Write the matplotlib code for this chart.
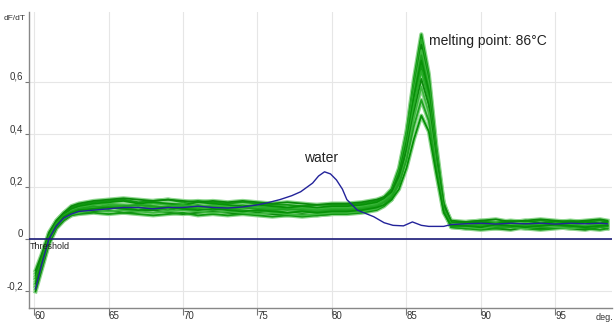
import matplotlib
matplotlib.use("Agg")
from matplotlib import pyplot as plt

plt.rcParams['font.family'] = ['Liberation Sans', 'DejaVu Sans']

# temperature grid shared by the sample wells (deg C)
temps = [60.1, 60.5, 61, 61.5, 62, 62.5,
         63, 64, 65, 66, 67, 68, 69, 70, 71, 72, 73, 74, 75, 76, 77, 78, 79, 80, 81, 82, 83,
         83.5, 84, 84.5, 85, 85.5, 86, 86.5, 87, 87.5, 88,
         89, 90, 91, 92, 93, 94, 95, 96, 97, 98, 98.5]

# dF/dT of the sample wells
well_a = [-0.13, -0.07, 0.02, 0.07, 0.10, 0.12,
          0.13, 0.14, 0.145, 0.15, 0.14, 0.145, 0.15, 0.14, 0.145, 0.14, 0.135, 0.14, 0.135, 0.13, 0.13, 0.125, 0.13, 0.13, 0.13, 0.135, 0.145,
          0.16, 0.19, 0.27, 0.41, 0.61, 0.78, 0.63, 0.36, 0.14, 0.06,
          0.065, 0.07, 0.065, 0.07, 0.065, 0.07, 0.065, 0.07, 0.065, 0.07, 0.065]
well_b = [-0.17, -0.10, 0.0, 0.05, 0.08, 0.10,
          0.11, 0.12, 0.125, 0.12, 0.13, 0.125, 0.12, 0.125, 0.13, 0.12, 0.125, 0.12, 0.115, 0.12, 0.115, 0.11, 0.115, 0.11, 0.115, 0.12, 0.13,
          0.15, 0.18, 0.26, 0.40, 0.59, 0.76, 0.61, 0.34, 0.13, 0.055,
          0.05, 0.055, 0.05, 0.06, 0.05, 0.055, 0.05, 0.055, 0.06, 0.05, 0.055]
well_c = [-0.20, -0.12, -0.02, 0.04, 0.07, 0.09,
          0.10, 0.105, 0.11, 0.10, 0.105, 0.11, 0.10, 0.095, 0.10, 0.105, 0.10, 0.095, 0.10, 0.095, 0.09, 0.095, 0.09, 0.095, 0.10, 0.105, 0.115,
          0.13, 0.16, 0.24, 0.38, 0.57, 0.74, 0.60, 0.33, 0.12, 0.045,
          0.04, 0.045, 0.04, 0.035, 0.045, 0.04, 0.045, 0.04, 0.035, 0.045, 0.04]
well_d = [-0.15, -0.08, 0.01, 0.06, 0.09, 0.11,
          0.12, 0.13, 0.135, 0.13, 0.125, 0.135, 0.13, 0.135, 0.125, 0.13, 0.125, 0.13, 0.12, 0.125, 0.12, 0.12, 0.115, 0.12, 0.12, 0.125, 0.135,
          0.15, 0.18, 0.25, 0.38, 0.56, 0.72, 0.59, 0.33, 0.13, 0.06,
          0.055, 0.06, 0.065, 0.055, 0.06, 0.06, 0.055, 0.065, 0.06, 0.055, 0.06]
well_e = [-0.18, -0.11, -0.01, 0.05, 0.075, 0.095,
          0.105, 0.115, 0.12, 0.115, 0.12, 0.115, 0.11, 0.12, 0.115, 0.11, 0.115, 0.11, 0.105, 0.11, 0.10, 0.105, 0.10, 0.105, 0.11, 0.115, 0.125,
          0.14, 0.17, 0.24, 0.37, 0.55, 0.70, 0.57, 0.32, 0.12, 0.05,
          0.045, 0.05, 0.045, 0.05, 0.055, 0.045, 0.05, 0.045, 0.05, 0.045, 0.05]
well_f = [-0.14, -0.07, 0.015, 0.065, 0.095, 0.115,
          0.125, 0.135, 0.14, 0.145, 0.135, 0.14, 0.135, 0.13, 0.14, 0.135, 0.13, 0.125, 0.13, 0.125, 0.12, 0.125, 0.12, 0.125, 0.125, 0.13, 0.14,
          0.155, 0.18, 0.25, 0.37, 0.54, 0.68, 0.56, 0.32, 0.13, 0.065,
          0.06, 0.065, 0.06, 0.065, 0.07, 0.06, 0.065, 0.06, 0.065, 0.06, 0.065]
well_g = [-0.19, -0.11, -0.015, 0.045, 0.075, 0.09,
          0.095, 0.10, 0.095, 0.10, 0.095, 0.09, 0.095, 0.10, 0.09, 0.095, 0.09, 0.095, 0.09, 0.085, 0.09, 0.085, 0.09, 0.095, 0.095, 0.10, 0.11,
          0.125, 0.15, 0.22, 0.34, 0.51, 0.66, 0.54, 0.30, 0.11, 0.045,
          0.04, 0.035, 0.04, 0.045, 0.04, 0.035, 0.04, 0.045, 0.04, 0.035, 0.04]
well_h = [-0.16, -0.09, 0.005, 0.055, 0.085, 0.105,
          0.115, 0.12, 0.13, 0.125, 0.13, 0.12, 0.125, 0.13, 0.12, 0.125, 0.12, 0.12, 0.125, 0.115, 0.11, 0.115, 0.11, 0.115, 0.115, 0.12, 0.13,
          0.145, 0.17, 0.23, 0.35, 0.51, 0.64, 0.53, 0.30, 0.12, 0.055,
          0.05, 0.055, 0.06, 0.05, 0.055, 0.05, 0.06, 0.055, 0.05, 0.055, 0.05]
well_i = [-0.12, -0.06, 0.025, 0.07, 0.10, 0.125,
          0.135, 0.145, 0.15, 0.155, 0.15, 0.145, 0.15, 0.145, 0.14, 0.145, 0.14, 0.145, 0.14, 0.135, 0.14, 0.135, 0.13, 0.135, 0.135, 0.14, 0.15,
          0.16, 0.18, 0.24, 0.34, 0.48, 0.61, 0.51, 0.30, 0.13, 0.07,
          0.065, 0.07, 0.075, 0.065, 0.07, 0.075, 0.07, 0.065, 0.07, 0.075, 0.07]
well_j = [-0.18, -0.10, -0.005, 0.05, 0.08, 0.095,
          0.10, 0.11, 0.105, 0.11, 0.105, 0.10, 0.105, 0.11, 0.105, 0.10, 0.105, 0.10, 0.095, 0.10, 0.095, 0.09, 0.095, 0.10, 0.10, 0.105, 0.115,
          0.13, 0.15, 0.21, 0.31, 0.46, 0.58, 0.48, 0.28, 0.11, 0.05,
          0.045, 0.04, 0.05, 0.045, 0.04, 0.05, 0.045, 0.04, 0.045, 0.05, 0.045]
well_k = [-0.15, -0.085, 0.01, 0.06, 0.09, 0.105,
          0.115, 0.125, 0.12, 0.125, 0.13, 0.125, 0.12, 0.115, 0.125, 0.12, 0.115, 0.12, 0.115, 0.11, 0.115, 0.11, 0.105, 0.11, 0.11, 0.115, 0.125,
          0.14, 0.16, 0.21, 0.30, 0.43, 0.53, 0.45, 0.27, 0.11, 0.055,
          0.05, 0.055, 0.05, 0.045, 0.055, 0.05, 0.055, 0.05, 0.045, 0.05, 0.055]
well_l = [-0.17, -0.095, 0.0, 0.05, 0.085, 0.10,
          0.11, 0.115, 0.12, 0.115, 0.11, 0.115, 0.12, 0.115, 0.11, 0.115, 0.11, 0.105, 0.11, 0.105, 0.10, 0.105, 0.10, 0.105, 0.105, 0.11, 0.12,
          0.13, 0.15, 0.19, 0.27, 0.38, 0.47, 0.41, 0.25, 0.10, 0.05,
          0.05, 0.045, 0.055, 0.05, 0.045, 0.05, 0.055, 0.05, 0.045, 0.05, 0.05]
wells = [well_a, well_b, well_c, well_d, well_e, well_f,
         well_g, well_h, well_i, well_j, well_k, well_l]

# the water control (no template)
water_t = [60.1, 60.5, 61, 61.5, 62, 62.5,
           63, 64, 65, 66, 67, 68, 69, 70, 71, 72, 73, 74, 75,
           75.6, 76.5, 77.3, 77.9, 78.7, 79.1, 79.5, 79.9, 80.3, 80.7, 81.0, 81.7, 82.8,
           83.5, 84.1, 84.8, 85.4, 86.0, 86.5, 87.5, 88,
           89, 90, 91, 92, 93, 94, 95, 96, 97, 98, 98.5]
water_v = [-0.19, -0.10, 0.0, 0.05, 0.08, 0.095,
           0.105, 0.11, 0.115, 0.12, 0.12, 0.115, 0.12, 0.12, 0.125, 0.12, 0.118, 0.122, 0.13,
           0.137, 0.15, 0.165, 0.18, 0.213, 0.24, 0.256, 0.248, 0.225, 0.19, 0.15, 0.11, 0.085,
           0.062, 0.052, 0.05, 0.065, 0.052, 0.048, 0.048, 0.055,
           0.058, 0.06, 0.057, 0.06, 0.058, 0.06, 0.057, 0.06, 0.058, 0.06, 0.058]

y_ticks = [-0.2, 0, 0.2, 0.4, 0.6]
y_labels = ['-0,2', '0', '0,2', '0,4', '0,6']
x_ticks = [60, 65, 70, 75, 80, 85, 90, 95]

greens = ['#129a12', '#2aae2a', '#0b8a0b', '#3fb83f', '#1fa21f', '#079107']

fig = plt.figure(figsize=(6.16, 3.26), dpi=100)
ax = fig.add_axes([29 / 616, 18 / 326, 583 / 616, 296 / 326])

# grid
for x in x_ticks:
    ax.axvline(x, color='#e6e6e6', lw=0.8, zorder=0)
for y in y_ticks:
    ax.axhline(y, color='#e6e6e6', lw=0.8, zorder=0)

# sample curves - light halo under each line like in the original screenshot
for w in wells:
    ax.plot(temps, w, color='#8fd68f', lw=3.0, solid_joinstyle='round', zorder=1)
for i, w in enumerate(wells):
    ax.plot(temps, w, color=greens[i % len(greens)], lw=1.3, zorder=2)

# water + threshold
ax.plot(water_t, water_v, color='#23239a', lw=1.0, zorder=3)
ax.axhline(0, color='#1c1c78', lw=1.2, zorder=4)

ax.set_xlim(59.66, 98.8)
ax.set_ylim(-0.263, 0.865)

ax.set_yticks(y_ticks)
ax.set_yticklabels(y_labels)
ax.set_xticks(x_ticks)
ax.set_xticklabels([str(x) for x in x_ticks])
ax.tick_params(axis='y', length=3, width=0.8, color='#777777', pad=1.5,
               labelsize=7, labelcolor='#333333')
ax.tick_params(axis='x', length=5, width=0.8, color='#777777', pad=-2.8,
               labelsize=7, labelcolor='#333333')
for lbl in ax.get_yticklabels():
    lbl.set_verticalalignment('bottom')
for lbl in ax.get_xticklabels():
    lbl.set_horizontalalignment('left')

for side in ['top', 'right']:
    ax.spines[side].set_visible(False)
for side in ['left', 'bottom']:
    ax.spines[side].set_color('#888888')
    ax.spines[side].set_linewidth(1.0)

# labels
ax.text(59.72, -0.01, 'Threshold', fontsize=6.5, color='#222222', va='top', ha='left')
ax.text(79.3, 0.31, 'water', fontsize=10, color='#222222', ha='center', va='center')
ax.text(86.5, 0.755, 'melting point: 86\u00b0C', fontsize=10, color='#222222',
        ha='left', va='center')
fig.text(4 / 616, 1 - 19 / 326, 'dF/dT', fontsize=6, color='#333333', va='center')
fig.text(596 / 616, 1 - 317 / 326, 'deg.', fontsize=6.5, color='#333333', va='center')

plt.savefig('out.png', dpi=100)
